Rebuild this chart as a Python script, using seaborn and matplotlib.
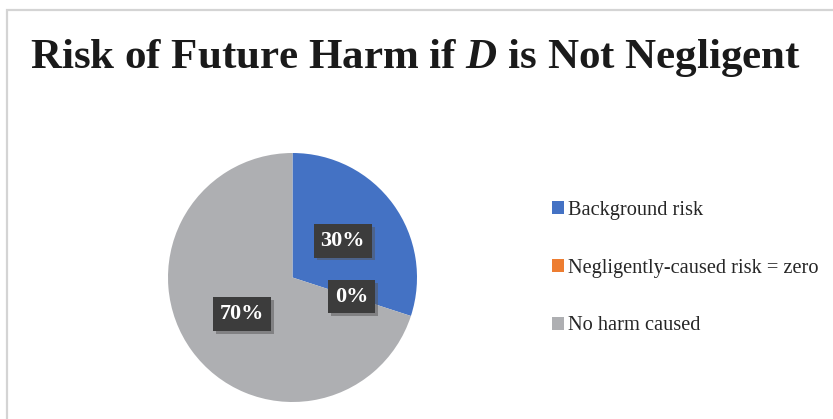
import numpy as np
import matplotlib
matplotlib.use("Agg")
import matplotlib.pyplot as plt
import matplotlib.patheffects as pe
from matplotlib.patches import Rectangle
import seaborn as sns

# data
categories = ["Background risk", "Negligently-caused risk = zero", "No harm caused"]
shares = [30, 0, 70]
colors = ["#4472C4", "#ED7D31", "#AEAFB2"]
title = r"Risk of Future Harm if $\mathbfit{D}$ is Not Negligent"

sns.set_theme(style="white")
plt.rcParams['font.family'] = ['Liberation Serif', 'DejaVu Serif']
plt.rcParams['mathtext.fontset'] = 'custom'
plt.rcParams['mathtext.bfit'] = 'Liberation Serif:italic:bold'
plt.rcParams['mathtext.it'] = 'Liberation Serif:italic'
plt.rcParams['mathtext.rm'] = 'Liberation Serif'

W, H = 833, 419
fig = plt.figure(figsize=(W / 100, H / 100), dpi=100)

# light frame around the chart area (runs off right/bottom edge)
fig.patches.append(Rectangle((7 / W, -0.05), 1.2, 1 - 10.5 / H + 0.05,
                             transform=fig.transFigure, fill=False,
                             edgecolor="#D4D4D4", linewidth=1.6))

ax = fig.add_axes([168 / W, (H - 402) / H, 249 / W, 249 / H])
wedges, texts, autotexts = ax.pie(
    shares, colors=colors, startangle=90, counterclock=False,
    autopct=lambda p: f"{p:.0f}%", pctdistance=0.5,
    wedgeprops=dict(linewidth=0),
    textprops=dict(color="white", fontsize=16, fontweight="bold"))
ax.set_xlim(-1, 1)
ax.set_ylim(-1, 1)
ax.set_aspect("equal")

for t in autotexts:
    t.set_bbox(dict(boxstyle="square,pad=0.3", facecolor="#3C3C3C",
                    edgecolor="none"))
    t.get_bbox_patch().set_path_effects(
        [pe.SimplePatchShadow(offset=(2, -2), shadow_rgbFace="#555555", alpha=0.5),
         pe.Normal()])

fig.text(415 / W, (H - 68) / H, title, ha="center", va="baseline",
         fontsize=31, fontweight="bold", color="#1A1A1A")

fig.legend(wedges, categories, loc="center left",
           bbox_to_anchor=(552 / W, (H - 268) / H), frameon=False,
           fontsize=14.7, handlelength=0.6, handleheight=0.6,
           handletextpad=0.2, labelspacing=1.9, labelcolor="#262626",
           borderaxespad=0, borderpad=0)

fig.savefig("out.png", dpi=100)
